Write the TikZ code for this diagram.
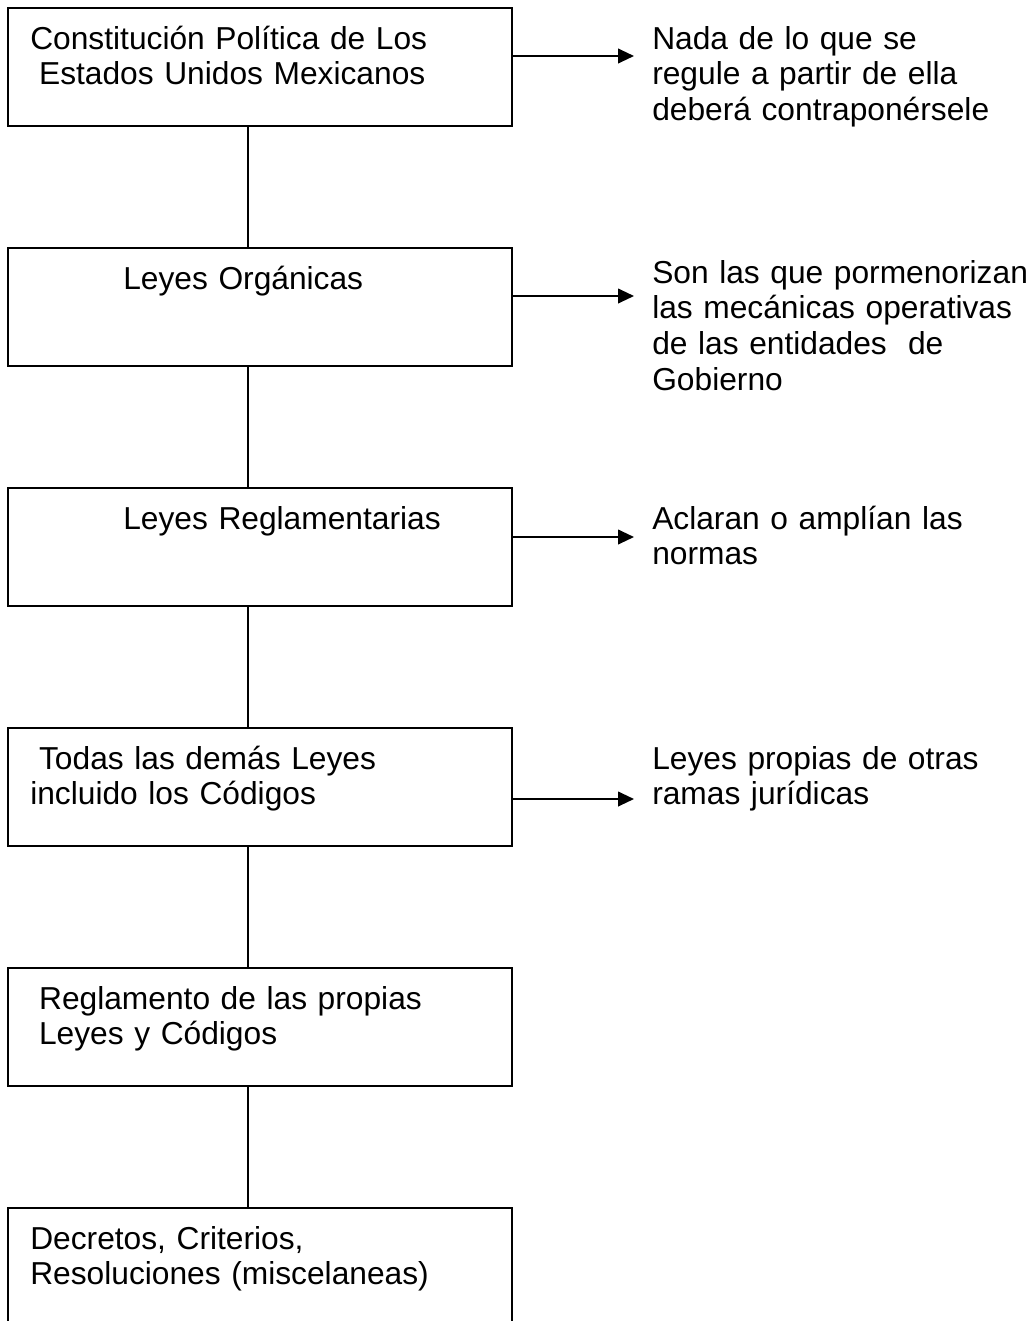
\documentclass[tikz,border=0pt]{standalone}
\usepackage{fontspec}
\setmainfont{Liberation Sans}
\usetikzlibrary{arrows.meta}
\begin{document}
\begin{tikzpicture}[x=0.75pt,y=-0.75pt,
  box/.style={draw, line width=1.5pt, minimum width=378pt, minimum height=88.5pt, inner sep=0pt, outer sep=0pt, anchor=north west},
  openbox/.style={minimum width=378pt, minimum height=84.75pt, inner sep=0pt, outer sep=0pt, anchor=north west},
  txt/.style={anchor=base west, inner sep=0pt, text width=400pt, align=left, font=\fontsize{23.8pt}{26.8pt}\selectfont},
  link/.style={line width=1.5pt},
  arr/.style={line width=1.5pt, -{Triangle[length=12pt,width=11pt]}}]
\useasboundingbox (0,0) rectangle (1031,1321);
\fill[white] (0,0) rectangle (1031,1321);
% boxes
\node[box] (b1) at (8,8) {};
\node[box] (b2) at (8,248) {};
\node[box] (b3) at (8,488) {};
\node[box] (b4) at (8,728) {};
\node[box] (b5) at (8,968) {};
\node[openbox] (b6) at (8,1208) {};
\draw[link] (b6.south west) -- (b6.north west) -- (b6.north east) -- (b6.south east);
% box texts
\node[txt] (t1) at (30,49) {Constitución Política de Los\\\hspace*{0.278em}Estados Unidos Mexicanos};
\node[txt] (t2) at (123,289) {Leyes Orgánicas};
\node[txt] (t3) at (123,529) {Leyes Reglamentarias};
\node[txt] (t4) at (30,769) {\hspace*{0.278em}Todas las demás Leyes\\incluido los Códigos};
\node[txt] (t5) at (30,1009) {\hspace*{0.278em}Reglamento de las propias\\\hspace*{0.278em}Leyes y Códigos};
\node[txt] (t6) at (30,1249) {Decretos, Criterios,\\Resoluciones (miscelaneas)};
% right texts
\node[txt] (r1) at (652,49) {Nada de lo que se\\regule a partir de ella\\deberá contraponérsele};
\node[txt] (r2) at (652,283) {Son las que pormenorizan\\las mecánicas operativas\\de las entidades\ \ de\\Gobierno};
\node[txt] (r3) at (652,529) {Aclaran o amplían las\\normas};
\node[txt] (r4) at (652,769) {Leyes propias de otras\\ramas jurídicas};
% connectors
\foreach \a/\b in {b1/b2,b2/b3,b3/b4,b4/b5,b5/b6}
  \draw[link] ([xshift=-9pt]\a.south) -- ([xshift=-9pt]\b.north);
% arrows
\coordinate (a1) at (634,56);
\coordinate (a2) at (634,296);
\coordinate (a3) at (634,537);
\coordinate (a4) at (634,799);
\draw[arr] (b1.east |- a1) -- (a1);
\draw[arr] (b2.east |- a2) -- (a2);
\draw[arr] (b3.east |- a3) -- (a3);
\draw[arr] (b4.east |- a4) -- (a4);
\end{tikzpicture}
\end{document}
